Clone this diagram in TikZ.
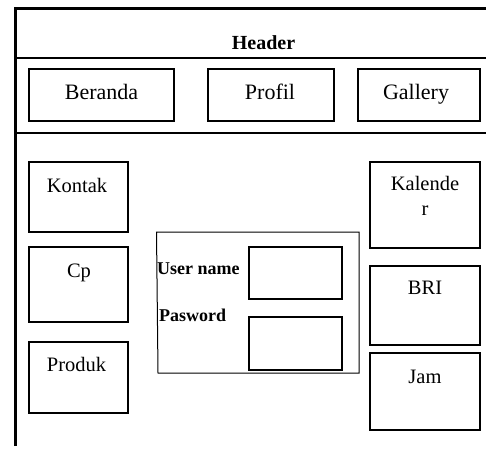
\documentclass[tikz,border=0pt]{standalone}
\usepackage{fontspec}
\setmainfont{Liberation Serif}
\begin{document}
\begin{tikzpicture}[x=1pt,y=-1pt,
  box/.style={draw=black,line width=1.6pt,inner sep=0pt},
  frame/.style={draw=black,line width=3pt},
  sep/.style={draw=black,line width=1.5pt},
  big/.style={font=\fontsize{22}{24}\selectfont,anchor=base,inner sep=0pt},
  mid/.style={font=\fontsize{20.5}{24}\selectfont,anchor=base,inner sep=0pt},
  lbl/.style={font=\fontsize{18}{20}\selectfont\bfseries,anchor=base west,inner sep=0pt}]
\useasboundingbox (0,0) rectangle (486,454);
% frame
\coordinate (fl) at (15,446);
\coordinate (ft) at (15,8.5);
\coordinate (fr) at (486,8.5);
\draw[frame] (fl) -- (ft) -- (fr);
\coordinate (s1a) at (15,58);
\coordinate (s1b) at (486,58);
\coordinate (s2a) at (15,133);
\coordinate (s2b) at (486,133);
\draw[sep] (s1a) -- (s1b);
\draw[sep] (s2a) -- (s2b);
\node[font=\fontsize{20}{22}\selectfont\bfseries,anchor=base,inner sep=0pt] (header) at (263.5,49.3) {Header};
% menu
\draw[box] (29,69) rectangle (174,121);
\draw[box] (208,69) rectangle (334,121);
\draw[box] (358,69) rectangle (480,121);
\node[big] (beranda) at (101.5,100) {Beranda};
\node[big] (profil) at (270,100) {Profil};
\node[big] (gallery) at (416,100) {Gallery};
% left column
\draw[box] (29,162) rectangle (128,232);
\draw[box] (29,247) rectangle (128,322);
\draw[box] (29,342) rectangle (128,413);
\node[mid] (kontak) at (77,192) {Kontak};
\node[mid] (cp) at (79,277) {Cp};
\node[mid] (produk) at (76.5,371) {Produk};
% right column
\draw[box] (370,162) rectangle (480,248);
\draw[box] (370,266) rectangle (480,345);
\draw[box] (370,353) rectangle (480,430);
\node[mid] (kal1) at (425,190.7) {Kalende};
\node[mid] (kal2) at (425,215) {r};
\node[mid] (bri) at (425,294) {BRI};
\node[mid] (jam) at (425,383) {Jam};
% login
\draw[draw=black,line width=1pt] (156.5,232) -- (158,373) -- (359,373) -- (359,232) -- cycle;
\draw[box] (249,247) rectangle (342,299);
\draw[box] (249,317) rectangle (342,370);
\node[lbl] (user) at (157,274) {User name};
\node[lbl] (pass) at (159,321.7) {Pasword};
\end{tikzpicture}
\end{document}
